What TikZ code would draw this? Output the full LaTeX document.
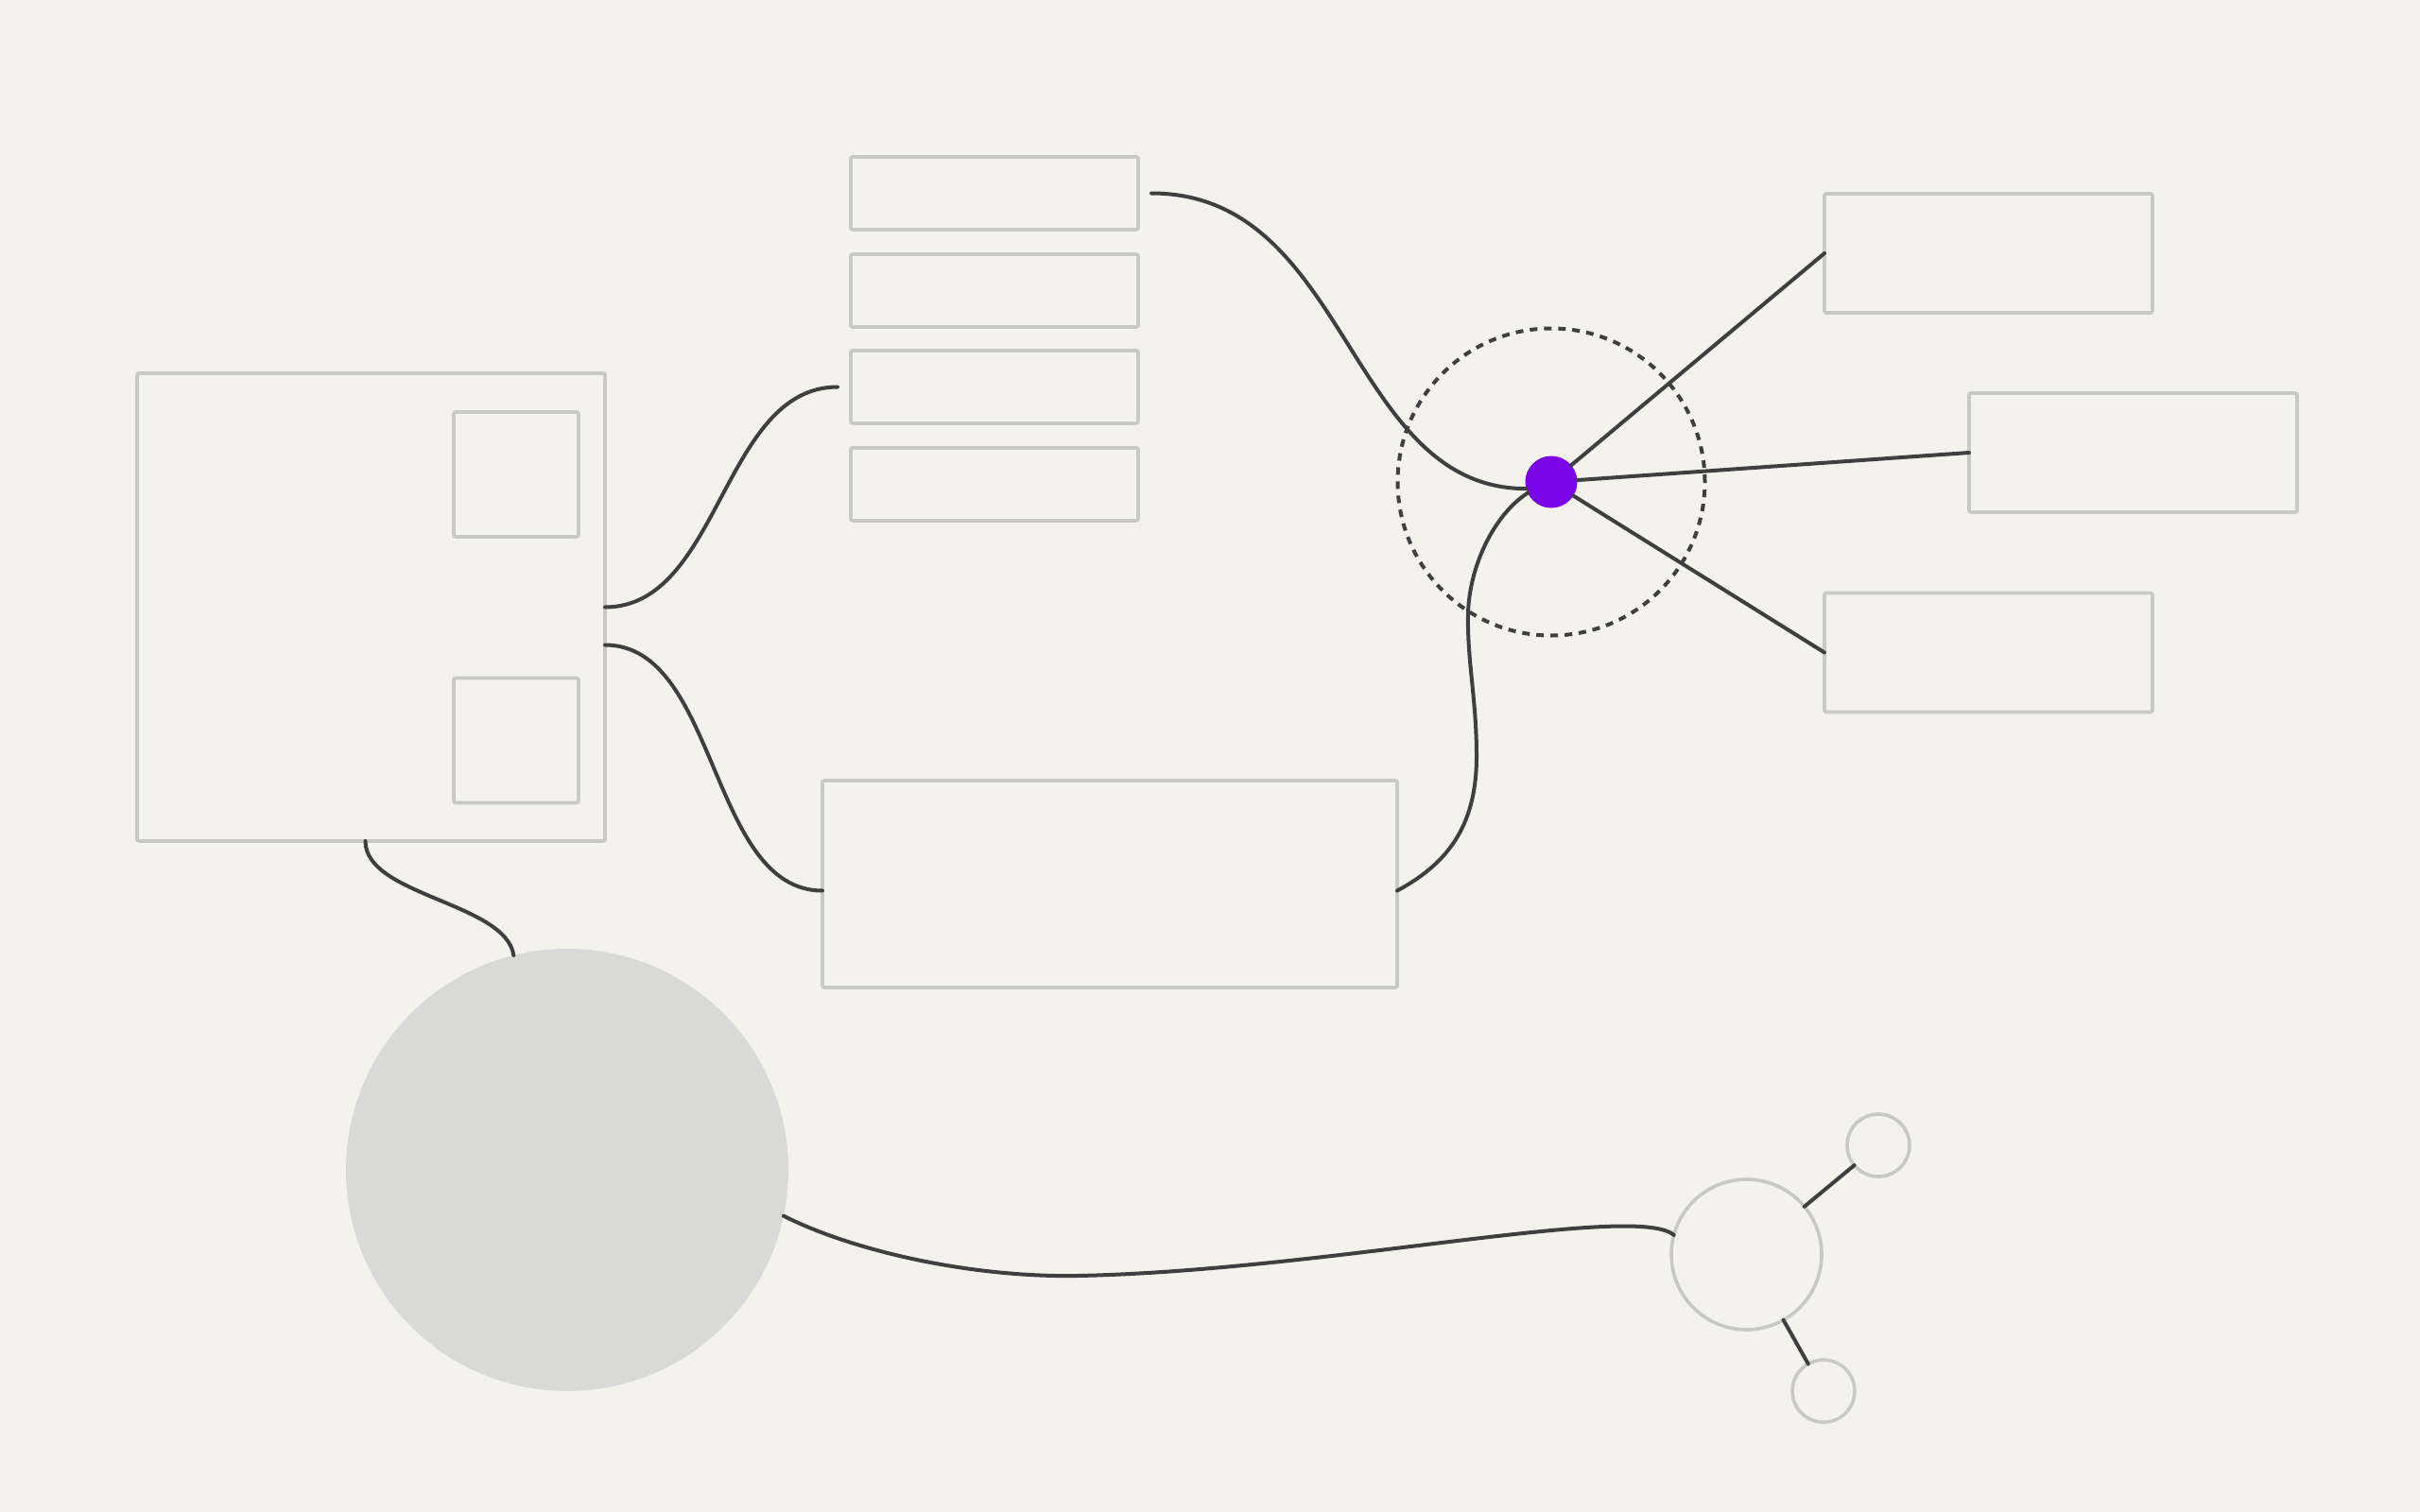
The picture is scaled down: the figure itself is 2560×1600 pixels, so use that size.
\documentclass[tikz,border=0pt]{standalone}
\definecolor{bgpaper}{HTML}{F3F2ED}
\definecolor{edgegray}{HTML}{C8C8C4}
\definecolor{ink}{HTML}{3F3F3F}
\definecolor{dotpurple}{HTML}{7A05E8}
\definecolor{blobgray}{HTML}{D9D9D8}
\begin{document}
\begin{tikzpicture}[x=1pt,y=-1pt,
  boxnode/.style={draw=edgegray, line width=3.6pt, rounded corners=2pt, fill=bgpaper, inner sep=0pt, outer sep=0pt},
  ring/.style={circle, draw=edgegray, line width=3.6pt, fill=bgpaper, inner sep=0pt, outer sep=0pt},
  wire/.style={draw=ink, line width=4pt, line cap=round}]
\fill[bgpaper] (0,0) rectangle (2560,1600);
\useasboundingbox (0,0) rectangle (2560,1600);

% left frame with two inner squares
\node[boxnode, minimum width=495, minimum height=495] (B) at (392.5,642.5) {};
\node[boxnode, minimum width=132, minimum height=132] (Bi1) at (546,502) {};
\node[boxnode, minimum width=132, minimum height=132] (Bi2) at (546,783.5) {};

% stacked bars
\node[boxnode, minimum width=304, minimum height=77] (s1) at (1052,204.5) {};
\node[boxnode, minimum width=304, minimum height=77] (s2) at (1052,307.5) {};
\node[boxnode, minimum width=304, minimum height=77] (s3) at (1052,409.5) {};
\node[boxnode, minimum width=304, minimum height=77] (s4) at (1052,512.5) {};

% middle box
\node[boxnode, minimum width=608, minimum height=219] (m) at (1174,935.5) {};

% right boxes
\node[boxnode, minimum width=347, minimum height=126] (r1) at (2103.5,268) {};
\node[boxnode, minimum width=347, minimum height=126] (r2) at (2256.5,479) {};
\node[boxnode, minimum width=347, minimum height=126] (r3) at (2103.5,690.5) {};

% circles
\node[circle, fill=blobgray, minimum size=468, inner sep=0pt, outer sep=0pt] (g) at (600,1238) {};
\node[ring, minimum size=159] (o) at (1847.5,1327.5) {};
\node[ring, minimum size=66] (sc1) at (1987,1212) {};
\node[ring, minimum size=66] (sc2) at (1929,1472) {};

% dashed ring and hub
\node[circle, draw=ink, line width=4pt, dash pattern=on 8pt off 7pt, minimum size=325, inner sep=0pt] (dc) at (1641,510) {};
\node[circle, fill=dotpurple, minimum size=55, inner sep=0pt, outer sep=0pt] (dot) at (1641,510) {};

% connectors
\draw[wire] ([xshift=14pt]s1.east) .. controls +(210,0) and +(-190,0) .. (dot.195);
\draw[wire] (B.east) .. controls +(122,0) and +(-122,0) .. ([xshift=-14pt]s3.west);
\draw[wire] ([yshift=-40pt]B.east) .. controls +(120,0) and +(-120,0) .. ([yshift=-7pt]m.west);
\draw[wire] ([yshift=-7pt]m.east) .. controls (1535,912) and (1562,870) .. (1562,800)
  .. controls (1562,740) and (1552,700) .. (1553,650)
  .. controls (1554,600) and (1580,545) .. (dot.205);
\draw[wire] ([xshift=-6pt]B.south) .. controls +(0,58) and (535,955) .. (g.104);
\draw[wire] (g.-12) .. controls (905,1325) and (1030,1352) .. (1140,1350) .. controls (1400,1345) and (1730,1272) .. (o.165);
\draw[wire] (dot) -- (r1.west);
\draw[wire] (dot) -- (r2.west);
\draw[wire] (dot) -- (r3.west);
\draw[wire] (o) -- (sc1);
\draw[wire] (o) -- (sc2);
\end{tikzpicture}
\end{document}
